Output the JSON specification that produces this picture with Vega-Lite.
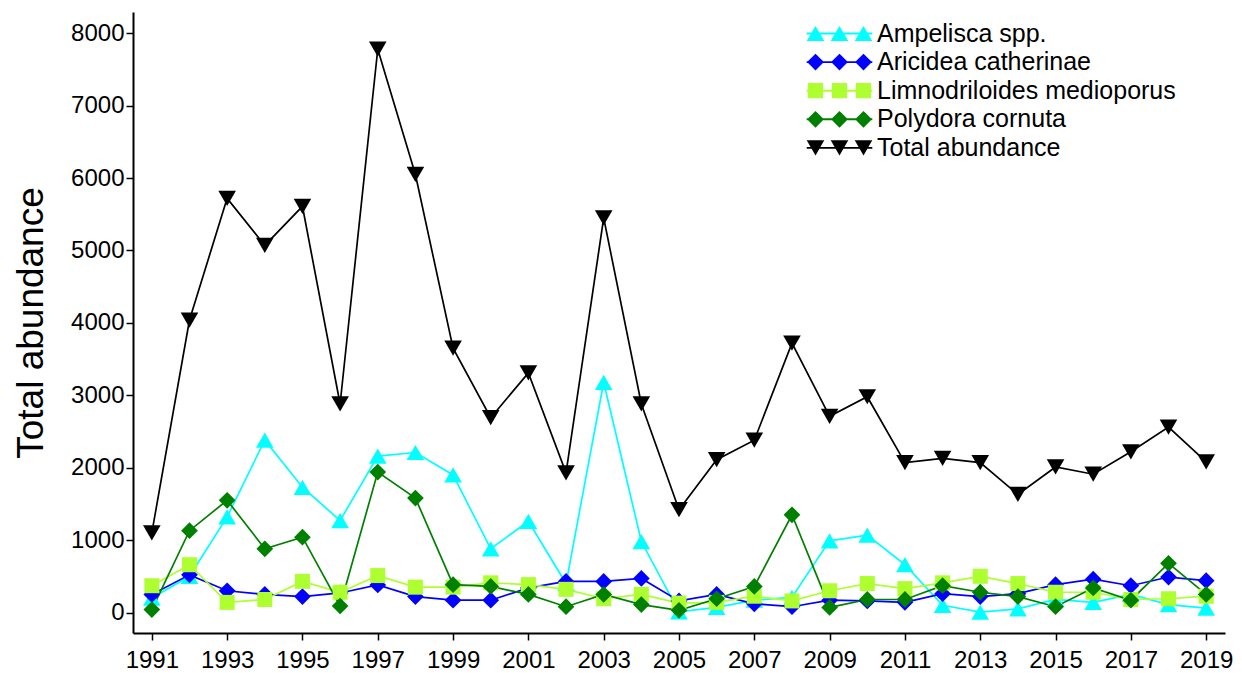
{
  "$schema": "https://vega.github.io/schema/vega-lite/v6.json",
  "width": 1092,
  "height": 621,
  "autosize": "none",
  "padding": {"left": 133, "top": 12, "right": 17, "bottom": 40},
  "background": "white",
  "config": {
    "view": {"stroke": null},
    "font": "Liberation Sans",
    "axis": {
      "grid": false,
      "domainColor": "black",
      "domainWidth": 2,
      "tickColor": "black",
      "tickWidth": 1.5,
      "tickSize": 7,
      "labelColor": "black",
      "labelFont": "Liberation Sans",
      "labelFontSize": 24,
      "titleColor": "black",
      "titleFont": "Liberation Sans"
    }
  },
  "data": {"values": [
    {"year":1991,"series":"Ampelisca spp.","value":200},
    {"year":1992,"series":"Ampelisca spp.","value":500},
    {"year":1993,"series":"Ampelisca spp.","value":1320},
    {"year":1994,"series":"Ampelisca spp.","value":2380},
    {"year":1995,"series":"Ampelisca spp.","value":1730},
    {"year":1996,"series":"Ampelisca spp.","value":1270},
    {"year":1997,"series":"Ampelisca spp.","value":2160},
    {"year":1998,"series":"Ampelisca spp.","value":2210},
    {"year":1999,"series":"Ampelisca spp.","value":1900},
    {"year":2000,"series":"Ampelisca spp.","value":880},
    {"year":2001,"series":"Ampelisca spp.","value":1260},
    {"year":2002,"series":"Ampelisca spp.","value":400},
    {"year":2003,"series":"Ampelisca spp.","value":3180},
    {"year":2004,"series":"Ampelisca spp.","value":980},
    {"year":2005,"series":"Ampelisca spp.","value":10},
    {"year":2006,"series":"Ampelisca spp.","value":70},
    {"year":2007,"series":"Ampelisca spp.","value":170},
    {"year":2008,"series":"Ampelisca spp.","value":210},
    {"year":2009,"series":"Ampelisca spp.","value":990},
    {"year":2010,"series":"Ampelisca spp.","value":1070},
    {"year":2011,"series":"Ampelisca spp.","value":660},
    {"year":2012,"series":"Ampelisca spp.","value":100},
    {"year":2013,"series":"Ampelisca spp.","value":5},
    {"year":2014,"series":"Ampelisca spp.","value":50},
    {"year":2015,"series":"Ampelisca spp.","value":180},
    {"year":2016,"series":"Ampelisca spp.","value":140},
    {"year":2017,"series":"Ampelisca spp.","value":250},
    {"year":2018,"series":"Ampelisca spp.","value":110},
    {"year":2019,"series":"Ampelisca spp.","value":60},
    {"year":1991,"series":"Aricidea catherinae","value":250},
    {"year":1992,"series":"Aricidea catherinae","value":520},
    {"year":1993,"series":"Aricidea catherinae","value":300},
    {"year":1994,"series":"Aricidea catherinae","value":250},
    {"year":1995,"series":"Aricidea catherinae","value":220},
    {"year":1996,"series":"Aricidea catherinae","value":270},
    {"year":1997,"series":"Aricidea catherinae","value":380},
    {"year":1998,"series":"Aricidea catherinae","value":220},
    {"year":1999,"series":"Aricidea catherinae","value":170},
    {"year":2000,"series":"Aricidea catherinae","value":170},
    {"year":2001,"series":"Aricidea catherinae","value":340},
    {"year":2002,"series":"Aricidea catherinae","value":430},
    {"year":2003,"series":"Aricidea catherinae","value":430},
    {"year":2004,"series":"Aricidea catherinae","value":470},
    {"year":2005,"series":"Aricidea catherinae","value":160},
    {"year":2006,"series":"Aricidea catherinae","value":250},
    {"year":2007,"series":"Aricidea catherinae","value":120},
    {"year":2008,"series":"Aricidea catherinae","value":80},
    {"year":2009,"series":"Aricidea catherinae","value":170},
    {"year":2010,"series":"Aricidea catherinae","value":160},
    {"year":2011,"series":"Aricidea catherinae","value":140},
    {"year":2012,"series":"Aricidea catherinae","value":260},
    {"year":2013,"series":"Aricidea catherinae","value":220},
    {"year":2014,"series":"Aricidea catherinae","value":260},
    {"year":2015,"series":"Aricidea catherinae","value":385},
    {"year":2016,"series":"Aricidea catherinae","value":460},
    {"year":2017,"series":"Aricidea catherinae","value":370},
    {"year":2018,"series":"Aricidea catherinae","value":490},
    {"year":2019,"series":"Aricidea catherinae","value":440},
    {"year":1991,"series":"Limnodriloides medioporus","value":370},
    {"year":1992,"series":"Limnodriloides medioporus","value":660},
    {"year":1993,"series":"Limnodriloides medioporus","value":140},
    {"year":1994,"series":"Limnodriloides medioporus","value":180},
    {"year":1995,"series":"Limnodriloides medioporus","value":430},
    {"year":1996,"series":"Limnodriloides medioporus","value":280},
    {"year":1997,"series":"Limnodriloides medioporus","value":510},
    {"year":1998,"series":"Limnodriloides medioporus","value":350},
    {"year":1999,"series":"Limnodriloides medioporus","value":350},
    {"year":2000,"series":"Limnodriloides medioporus","value":410},
    {"year":2001,"series":"Limnodriloides medioporus","value":385},
    {"year":2002,"series":"Limnodriloides medioporus","value":320},
    {"year":2003,"series":"Limnodriloides medioporus","value":190},
    {"year":2004,"series":"Limnodriloides medioporus","value":250},
    {"year":2005,"series":"Limnodriloides medioporus","value":130},
    {"year":2006,"series":"Limnodriloides medioporus","value":140},
    {"year":2007,"series":"Limnodriloides medioporus","value":225},
    {"year":2008,"series":"Limnodriloides medioporus","value":160},
    {"year":2009,"series":"Limnodriloides medioporus","value":300},
    {"year":2010,"series":"Limnodriloides medioporus","value":400},
    {"year":2011,"series":"Limnodriloides medioporus","value":330},
    {"year":2012,"series":"Limnodriloides medioporus","value":410},
    {"year":2013,"series":"Limnodriloides medioporus","value":500},
    {"year":2014,"series":"Limnodriloides medioporus","value":400},
    {"year":2015,"series":"Limnodriloides medioporus","value":280},
    {"year":2016,"series":"Limnodriloides medioporus","value":280},
    {"year":2017,"series":"Limnodriloides medioporus","value":180},
    {"year":2018,"series":"Limnodriloides medioporus","value":190},
    {"year":2019,"series":"Limnodriloides medioporus","value":225},
    {"year":1991,"series":"Polydora cornuta","value":40},
    {"year":1992,"series":"Polydora cornuta","value":1130},
    {"year":1993,"series":"Polydora cornuta","value":1550},
    {"year":1994,"series":"Polydora cornuta","value":880},
    {"year":1995,"series":"Polydora cornuta","value":1040},
    {"year":1996,"series":"Polydora cornuta","value":90},
    {"year":1997,"series":"Polydora cornuta","value":1940},
    {"year":1998,"series":"Polydora cornuta","value":1580},
    {"year":1999,"series":"Polydora cornuta","value":385},
    {"year":2000,"series":"Polydora cornuta","value":360},
    {"year":2001,"series":"Polydora cornuta","value":250},
    {"year":2002,"series":"Polydora cornuta","value":80},
    {"year":2003,"series":"Polydora cornuta","value":250},
    {"year":2004,"series":"Polydora cornuta","value":110},
    {"year":2005,"series":"Polydora cornuta","value":30},
    {"year":2006,"series":"Polydora cornuta","value":190},
    {"year":2007,"series":"Polydora cornuta","value":360},
    {"year":2008,"series":"Polydora cornuta","value":1350},
    {"year":2009,"series":"Polydora cornuta","value":70},
    {"year":2010,"series":"Polydora cornuta","value":180},
    {"year":2011,"series":"Polydora cornuta","value":180},
    {"year":2012,"series":"Polydora cornuta","value":370},
    {"year":2013,"series":"Polydora cornuta","value":280},
    {"year":2014,"series":"Polydora cornuta","value":220},
    {"year":2015,"series":"Polydora cornuta","value":80},
    {"year":2016,"series":"Polydora cornuta","value":340},
    {"year":2017,"series":"Polydora cornuta","value":170},
    {"year":2018,"series":"Polydora cornuta","value":680},
    {"year":2019,"series":"Polydora cornuta","value":250},
    {"year":1991,"series":"Total abundance","value":1100},
    {"year":1992,"series":"Total abundance","value":4040},
    {"year":1993,"series":"Total abundance","value":5720},
    {"year":1994,"series":"Total abundance","value":5070},
    {"year":1995,"series":"Total abundance","value":5610},
    {"year":1996,"series":"Total abundance","value":2880},
    {"year":1997,"series":"Total abundance","value":7780},
    {"year":1998,"series":"Total abundance","value":6050},
    {"year":1999,"series":"Total abundance","value":3650},
    {"year":2000,"series":"Total abundance","value":2690},
    {"year":2001,"series":"Total abundance","value":3310},
    {"year":2002,"series":"Total abundance","value":1930},
    {"year":2003,"series":"Total abundance","value":5450},
    {"year":2004,"series":"Total abundance","value":2880},
    {"year":2005,"series":"Total abundance","value":1420},
    {"year":2006,"series":"Total abundance","value":2110},
    {"year":2007,"series":"Total abundance","value":2380},
    {"year":2008,"series":"Total abundance","value":3720},
    {"year":2009,"series":"Total abundance","value":2710},
    {"year":2010,"series":"Total abundance","value":2980},
    {"year":2011,"series":"Total abundance","value":2070},
    {"year":2012,"series":"Total abundance","value":2130},
    {"year":2013,"series":"Total abundance","value":2070},
    {"year":2014,"series":"Total abundance","value":1630},
    {"year":2015,"series":"Total abundance","value":2010},
    {"year":2016,"series":"Total abundance","value":1910},
    {"year":2017,"series":"Total abundance","value":2220},
    {"year":2018,"series":"Total abundance","value":2560},
    {"year":2019,"series":"Total abundance","value":2080}
  ]},
  "encoding": {
    "x": {
      "field": "year", "type": "quantitative",
      "scale": {"domain": [1990.5, 2019.5], "nice": false, "zero": false},
      "axis": {
        "title": null,
        "values": [1991,1993,1995,1997,1999,2001,2003,2005,2007,2009,2011,2013,2015,2017,2019],
        "format": "d",
        "labelPadding": 8,
        "labelFlush": false,
        "labelOverlap": false
      }
    },
    "y": {
      "field": "value", "type": "quantitative",
      "scale": {"domain": [-283, 8294], "nice": false, "zero": false},
      "axis": {
        "title": "Total abundance",
        "titleFontSize": 37,
        "titleFontWeight": "normal",
        "titlePadding": 20,
        "values": [0,1000,2000,3000,4000,5000,6000,7000,8000],
        "format": "d",
        "labelPadding": 2,
        "labelFlush": false,
        "labelOverlap": false
      }
    },
    "color": {
      "field": "series", "type": "nominal",
      "scale": {
        "domain": ["Ampelisca spp.","Aricidea catherinae","Limnodriloides medioporus","Polydora cornuta","Total abundance"],
        "range": ["#00FFFF","#0000FF","#ADFF2F","#008000","#000000"]
      },
      "legend": {
        "title": null,
        "orient": "none",
        "legendX": 694,
        "legendY": 9,
        "padding": 0,
        "labelFont": "Liberation Sans",
        "labelFontSize": 25,
        "labelColor": "black",
        "labelLimit": 0,
        "labelOffset": 25,
        "rowPadding": 2.6,
        "symbolSize": 256,
        "symbolOpacity": 1,
        "encode": {
          "symbols": {
            "update": {
              "size": {"value": 256},
              "strokeWidth": {"value": 0},
              "stroke": {"value": "transparent"},
              "fill": {"scale": "color", "field": "value"},
              "opacity": {"value": 1},
              "shape": {"signal": "datum.value === 'Ampelisca spp.' ? 'M-4.1,-0.12H4.1V0.12H-4.1Z M-3,-0.95L-1.9,0.95L-4.1,0.95Z M0,-0.95L1.1,0.95L-1.1,0.95Z M3,-0.95L4.1,0.95L1.9,0.95Z' : (datum.value === 'Limnodriloides medioporus' ? 'M-4.1,-0.12H4.1V0.12H-4.1Z M-3.95,-0.95H-2.05V0.95H-3.95Z M-0.95,-0.95H0.95V0.95H-0.95Z M2.05,-0.95H3.95V0.95H2.05Z' : (datum.value === 'Total abundance' ? 'M-4.1,-0.12H4.1V0.12H-4.1Z M-3,0.95L-4.1,-0.95L-1.9,-0.95Z M0,0.95L-1.1,-0.95L1.1,-0.95Z M3,0.95L1.9,-0.95L4.1,-0.95Z' : 'M-4.1,-0.12H4.1V0.12H-4.1Z M-4.05,0L-3,-1.05L-1.95,0L-3,1.05Z M-1.05,0L0,-1.05L1.05,0L0,1.05Z M1.95,0L3,-1.05L4.05,0L3,1.05Z'))"}
            }
          }
        }
      }
    }
  },
  "layer": [
    {
      "mark": {"type": "line", "strokeWidth": 1.7},
      "encoding": {"detail": {"field": "series"}}
    },
    {
      "mark": {"type": "point", "filled": true, "opacity": 1, "strokeWidth": 0},
      "encoding": {
        "shape": {
          "condition": [
            {"test": "datum.series === 'Ampelisca spp.'", "value": "triangle-up"},
            {"test": "datum.series === 'Limnodriloides medioporus'", "value": "square"},
            {"test": "datum.series === 'Total abundance'", "value": "triangle-down"}
          ],
          "value": "diamond"
        },
        "size": {
          "condition": [
            {"test": "datum.series === 'Ampelisca spp.'", "value": 310},
            {"test": "datum.series === 'Limnodriloides medioporus'", "value": 225},
            {"test": "datum.series === 'Total abundance'", "value": 310}
          ],
          "value": 280
        }
      }
    }
  ]
}
